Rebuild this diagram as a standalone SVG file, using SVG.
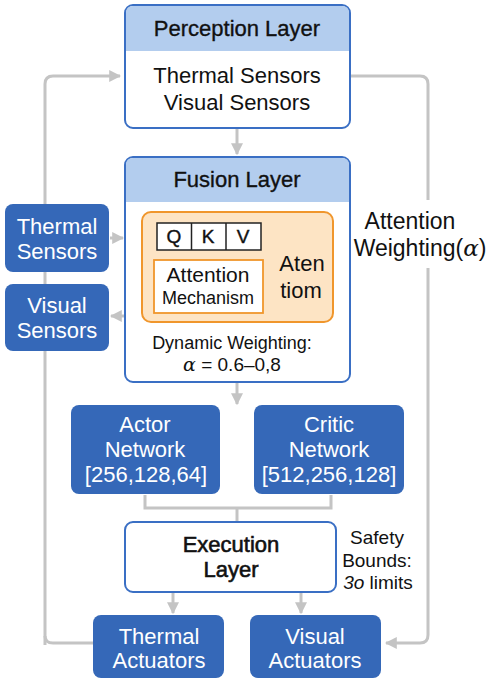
<svg xmlns="http://www.w3.org/2000/svg" width="491" height="685" viewBox="0 0 491 685">
<style>
text{font-family:"Liberation Sans","DejaVu Sans",sans-serif;text-anchor:middle;fill:#111;}
.hd{font-size:22px;stroke:#111;stroke-width:0.35px;}
.bd{font-size:22px;}
.wt{font-size:22px;fill:#fff;}
.ln{fill:none;stroke:#c4c4c4;stroke-width:3;}
.dk{fill:#3568b8;}
.frame{fill:#fff;stroke:#3a6fc4;stroke-width:2;}
.hdr{fill:#b3cdee;}
.gr{font-family:"DejaVu Serif",serif;font-style:italic;}
</style>
<defs>
<marker id="ah" viewBox="0 0 10 10" refX="9" refY="5" markerWidth="4" markerHeight="4" orient="auto" markerUnits="strokeWidth">
<path d="M0,0 L10,5 L0,10 z" fill="#c4c4c4"/>
</marker>
</defs>
<g id="connectors">
<path class="ln" d="M45,645 L45,84 Q45,76 53,76 L120,76" marker-end="url(#ah)"/>
<path class="ln" d="M45,636 Q45,643 53,643 L94,643"/>
<path class="ln" d="M351,76 L420,76 Q428,76 428,84 L428,200"/>
<path class="ln" d="M428,268 L428,635 Q428,643 420,643 L386,643" marker-end="url(#ah)"/>
<path class="ln" d="M237,129 L237,154" marker-end="url(#ah)"/>
<path class="ln" d="M110,238 L123,238" marker-end="url(#ah)"/>
<path class="ln" d="M124,316 L111,316" marker-end="url(#ah)"/>
<path class="ln" d="M237,383 L237,404" marker-end="url(#ah)"/>
<path class="ln" d="M145,495 L145,508 L331,508 L331,495"/>
<path class="ln" d="M237,508 L237,522"/>
<path class="ln" d="M173,593 L173,613" marker-end="url(#ah)"/>
<path class="ln" d="M301,593 L301,613" marker-end="url(#ah)"/>
</g>
<g id="perception">
<rect class="frame" x="125" y="5" width="225" height="123" rx="8"/>
<path class="hdr" d="M126,51 L126,13 Q126,6 133,6 L342,6 Q349,6 349,13 L349,51 z"/>
<text class="hd" x="237" y="36">Perception Layer</text>
<text class="bd" x="237" y="83">Thermal Sensors</text>
<text class="bd" x="237" y="110">Visual Sensors</text>
</g>
<g id="fusion">
<rect class="frame" x="125" y="157" width="225" height="225" rx="8"/>
<path class="hdr" d="M126,202 L126,165 Q126,158 133,158 L342,158 Q349,158 349,165 L349,202 z"/>
<text class="hd" x="237" y="187">Fusion Layer</text>
<rect x="142" y="212" width="191" height="110" rx="9" fill="#fde4c4" stroke="#f0962c" stroke-width="2"/>
<rect x="157" y="223" width="104" height="27" fill="#fff" stroke="#222" stroke-width="1.5"/>
<line x1="191.5" y1="223" x2="191.5" y2="250" stroke="#222" stroke-width="1.5"/>
<line x1="226" y1="223" x2="226" y2="250" stroke="#222" stroke-width="1.5"/>
<text x="174" y="243" font-size="19" stroke="#111" stroke-width="0.4">Q</text>
<text x="208" y="243" font-size="19" stroke="#111" stroke-width="0.4">K</text>
<text x="243" y="243" font-size="19" stroke="#111" stroke-width="0.4">V</text>
<rect x="154" y="260" width="109" height="53" fill="#fff" stroke="#f0962c" stroke-width="1.8"/>
<text x="208" y="282" font-size="21">Attention</text>
<text x="208" y="304" font-size="18">Mechanism</text>
<text x="302" y="271" font-size="22">Aten</text>
<text x="301" y="298" font-size="22">tiom</text>
<text x="232" y="349" font-size="18">Dynamic Weighting:</text>
<text x="232" y="371" font-size="19"><tspan class="gr">α</tspan> = 0.6–0,8</text>
</g>
<g id="thermal-sensors">
<rect class="dk" x="5" y="204" width="104" height="68" rx="8"/>
<text class="wt" x="57" y="234">Thermal</text>
<text class="wt" x="57" y="259">Sensors</text>
</g>
<g id="visual-sensors">
<rect class="dk" x="5" y="284" width="104" height="67" rx="8"/>
<text class="wt" x="57" y="313">Visual</text>
<text class="wt" x="57" y="338">Sensors</text>
</g>
<g id="attention-weighting">
<text x="410" y="229" font-size="23">Attention</text>
<text x="420" y="256" font-size="23">Weighting(<tspan class="gr">α</tspan>)</text>
</g>
<g id="actor">
<rect class="dk" x="71" y="405" width="149" height="89" rx="8"/>
<text class="wt" x="145" y="432">Actor</text>
<text class="wt" x="145" y="457">Network</text>
<text class="wt" x="146" y="482">[256,128,64]</text>
</g>
<g id="critic">
<rect class="dk" x="254" y="405" width="150" height="89" rx="8"/>
<text class="wt" x="329" y="432">Critic</text>
<text class="wt" x="329" y="457">Network</text>
<text class="wt" x="329" y="482">[512,256,128]</text>
</g>
<g id="execution">
<rect class="frame" x="125" y="522" width="211" height="70" rx="8"/>
<text x="231" y="552" font-size="22" stroke="#111" stroke-width="0.6">Execution</text>
<text x="231" y="577" font-size="22" stroke="#111" stroke-width="0.6">Layer</text>
</g>
<g id="safety">
<text x="377" y="544" font-size="19">Safety</text>
<text x="377" y="567" font-size="19">Bounds:</text>
<text x="378" y="589" font-size="19"><tspan font-style="italic">3o</tspan> limits</text>
</g>
<g id="thermal-actuators">
<rect class="dk" x="93" y="615" width="131" height="63" rx="8"/>
<text class="wt" x="159" y="644">Thermal</text>
<text class="wt" x="159" y="668">Actuators</text>
</g>
<g id="visual-actuators">
<rect class="dk" x="250" y="615" width="131" height="63" rx="8"/>
<text class="wt" x="315" y="644">Visual</text>
<text class="wt" x="315" y="668">Actuators</text>
</g>
</svg>
